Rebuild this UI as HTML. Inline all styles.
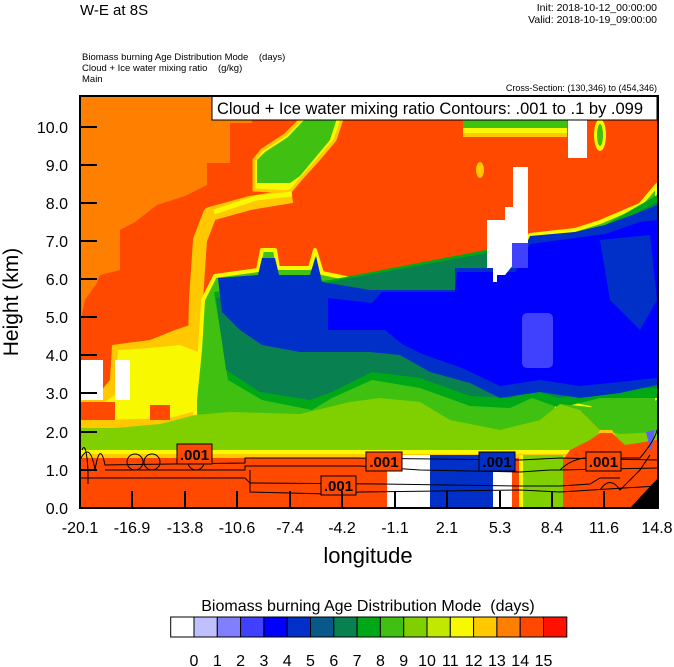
<!DOCTYPE html>
<html><head><meta charset="utf-8"><style>
html,body{margin:0;padding:0;background:#fff;}
svg{display:block;font-family:"Liberation Sans",Arial,sans-serif;}
.pre{white-space:pre;}
</style></head><body>
<svg width="674" height="667" viewBox="0 0 674 667" xmlns="http://www.w3.org/2000/svg">
<text x="80" y="15" font-size="15">W-E at 8S</text>
<text x="657" y="11" font-size="10.5" text-anchor="end">Init: 2018-10-12_00:00:00</text>
<text x="657" y="23" font-size="10.5" text-anchor="end">Valid: 2018-10-19_09:00:00</text>
<text x="82" y="60" font-size="9.5" class="pre">Biomass burning Age Distribution Mode    (days)</text>
<text x="82" y="71" font-size="9.5" class="pre">Cloud + Ice water mixing ratio    (g/kg)</text>
<text x="82" y="82" font-size="9.5">Main</text>
<text x="657" y="91" font-size="9" text-anchor="end">Cross-Section: (130,346) to (454,346)</text>

<clipPath id="c"><rect x="80" y="96" width="578" height="412"/></clipPath>
<g clip-path="url(#c)">
<rect x="80" y="96" width="578" height="412" fill="#ff4800"/>
<!-- orange top-left -->
<polygon fill="#ff8000" points="80,96 252,96 252,123 230,123 230,163 207,163 207,185 185,196 157,205 135,222 120,230 120,270 100,275 97,283 85,300 80,323"/>
<!-- top green patch -->
<polygon fill="#f8f800" stroke="#ffc800" stroke-width="3" points="254,190 254,160 262,150 285,135 300,120 325,100 345,96 345,110 335,140 318,160 300,180 290,192"/>
<polygon fill="#40c010" points="257,183 257,160 265,152 288,137 302,122 328,100 340,100 338,115 330,140 315,158 300,176 290,183"/>
<!-- diagonal stripe -->
<path d="M292,196 L250,203 L210,214 L200,240 L196,300 L195,340 L190,380" fill="none" stroke="#ffc800" stroke-width="14" stroke-linejoin="round"/>
<path d="M292,194 L256,198 L214,212" fill="none" stroke="#f8f800" stroke-width="5"/>
<!-- left yellow zone -->
<polygon fill="#ffc800" points="80,400 95,398 110,380 112,345 150,340 175,330 190,325 205,345 205,415 180,425 80,432"/>
<polygon fill="#f8f800" points="100,405 115,395 118,350 150,348 180,345 198,352 200,410 170,418 100,420"/>
<!-- cool region envelope -->
<path fill="#40c010" stroke="#f8f800" stroke-width="4" stroke-linejoin="round" d="M200,350 L203,300 L215,276 L258,270 L262,250 L275,250 L278,268 L310,268 L315,250 L322,273 L370,283 L453,290 L455,266 L513,266 L530,235 L575,230 L600,222 L640,205 L657,185 L657,420 L640,425 L610,425 L590,408 L560,402 L540,440 L240,440 L195,430 L195,400 Z"/>
<polygon fill="#ff4800" points="80,402 115,402 115,420 80,420"/>
<polygon fill="#ff4800" points="150,405 170,405 170,420 150,420"/>
<!-- green -->
<polygon fill="#00a818" points="214,292 228,380 262,400 312,410 332,398 372,380 420,388 470,406 510,408 532,398 560,408 600,398 657,398 657,195 600,228 330,280"/>
<!-- teal -->
<polygon fill="#088050" points="216,298 226,370 260,392 310,400 332,392 372,372 420,378 470,396 510,398 532,390 560,398 600,388 657,388 657,202 600,232 330,282"/>
<!-- dark blue -->
<polygon fill="#0030c8" points="218,278 258,275 262,258 275,258 279,275 310,275 316,256 322,282 370,290 455,290 455,268 515,268 530,236 575,232 605,225 640,212 657,205 657,385 620,393 580,398 540,392 500,398 470,383 430,372 400,355 370,352 300,352 262,345 240,330 222,312"/>
<!-- blue -->
<polygon fill="#0000ff" points="328,298 372,303 382,292 455,292 457,272 515,272 530,244 575,238 605,234 640,222 657,220 657,378 620,382 580,386 540,380 500,386 462,368 422,354 402,344 385,330 328,330"/>
<polygon fill="#0030c8" points="600,240 650,235 657,300 640,330 610,300"/>
<rect x="522" y="313" width="31" height="55" rx="5" fill="#4040ff"/>
<!-- top right bits -->
<rect x="463" y="120" width="104" height="8" fill="#40c010"/>
<rect x="463" y="128" width="104" height="5" fill="#f8f800"/>
<rect x="463" y="133" width="104" height="4" fill="#ffc800"/>
<ellipse cx="600" cy="135" rx="6" ry="16" fill="#f8f800"/>
<ellipse cx="600" cy="135" rx="3" ry="11" fill="#40c010"/>
<ellipse cx="480" cy="170" rx="4" ry="8" fill="#ffc800"/>
<!-- lime band -->
<polygon fill="#80d000" points="80,450 80,428 115,428 160,424 195,415 230,412 300,414 350,402 380,398 420,402 450,420 500,430 540,420 560,404 580,410 600,430 657,432 657,452"/>
<polygon fill="#40c010" points="560,404 600,408 640,405 657,400 657,432 620,434 600,430 580,410"/>
<polygon fill="#ffc800" points="595,440 600,430 612,430 618,440"/>
<rect x="80" y="450" width="578" height="4" fill="#f8f800"/>
<rect x="80" y="454" width="578" height="4" fill="#ffc800"/>
<rect x="80" y="458" width="578" height="50" fill="#ff4800"/>
<polygon fill="#ff4800" points="563,460 570,450 590,440 600,433 612,433 625,445 657,440 657,470 563,470"/>
<!-- bottom columns -->
<rect x="387" y="455" width="43" height="53" fill="#fff"/>
<rect x="430" y="455" width="63" height="53" fill="#0030c8"/>
<rect x="493" y="455" width="19" height="53" fill="#fff"/>
<rect x="523" y="455" width="40" height="53" fill="#80d000"/>
<rect x="519" y="455" width="4" height="53" fill="#f8f800"/>
<polygon fill="#000" points="630,508 658,478 658,508"/>
<polygon fill="#6060ff" points="646,432 655,430 651,452"/>
<!-- white patches -->
<rect x="80" y="360" width="23" height="40" fill="#fff"/>
<rect x="115" y="360" width="15" height="40" fill="#fff"/>
<polygon fill="#fff" points="513,167 528,167 528,265 513,265 505,275 497,275 497,282 493,282 493,268 487,268 487,220 505,220 505,207 513,207"/>
<rect x="512" y="243" width="16" height="25" fill="#4040ff"/>
<rect x="568" y="120" width="19" height="38" fill="#fff"/>
<!-- contour lines -->
<g fill="none" stroke="#000" stroke-width="1">
<path d="M80,460 Q90,440 95,470 Q100,440 105,465 L245,463 L245,458 L355,458 L520,460 L560,458 L657,460"/>
<path d="M105,470 L245,470 L245,466 L360,466 L420,470 L520,472 L550,470 L560,470 L657,468"/>
<path d="M80,478 L245,478 L250,483 L380,484 L520,486 L560,486 L590,484 L600,478 L620,478"/>
<path d="M250,470 L250,492 L330,494 L360,492 L520,490 L560,492 L657,486"/>
<path d="M560,470 Q575,455 600,458 L640,458 Q655,440 657,430"/>
<path d="M82,450 Q86,440 88,470 L88,484"/>
<circle cx="135" cy="462" r="8"/><circle cx="152" cy="462" r="8"/><circle cx="196" cy="462" r="8"/>
<path d="M600,490 Q610,475 620,490 Q630,480 640,470 L650,455"/>
</g>
</g>
<!-- contour labels -->
<g font-size="15" font-weight="bold">
<rect x="177" y="444" width="35" height="20" fill="#ff4800" stroke="#000"/><text x="194.5" y="460" text-anchor="middle">.001</text>
<rect x="321" y="476" width="35" height="19" fill="#ff4800" stroke="#000"/><text x="338.5" y="491" text-anchor="middle">.001</text>
<rect x="366" y="452" width="36" height="19" fill="#ff4800" stroke="#000"/><text x="384" y="467" text-anchor="middle">.001</text>
<rect x="479" y="452" width="36" height="19" fill="#0030c8" stroke="#000"/><text x="497" y="467" text-anchor="middle">.001</text>
<rect x="586" y="452" width="35" height="19" fill="#ff4800" stroke="#000"/><text x="603.5" y="467" text-anchor="middle">.001</text>
</g>
<!-- legend box -->
<rect x="212" y="96" width="445" height="24" fill="#fff" stroke="#000"/>
<text x="217" y="114" font-size="16.5">Cloud + Ice water mixing ratio Contours: .001 to .1 by .099</text>
<!-- frame -->
<rect x="80" y="96" width="578" height="412" fill="none" stroke="#000" stroke-width="2"/>
<g stroke="#000" stroke-width="2">
<line x1="80" y1="127" x2="97" y2="127"/><line x1="80" y1="165" x2="97" y2="165"/><line x1="80" y1="203" x2="97" y2="203"/><line x1="80" y1="241" x2="97" y2="241"/><line x1="80" y1="279" x2="97" y2="279"/><line x1="80" y1="317" x2="97" y2="317"/><line x1="80" y1="355" x2="97" y2="355"/><line x1="80" y1="393" x2="97" y2="393"/><line x1="80" y1="432" x2="97" y2="432"/><line x1="80" y1="470" x2="97" y2="470"/>
<line x1="132" y1="491" x2="132" y2="508"/><line x1="185" y1="491" x2="185" y2="508"/><line x1="237" y1="491" x2="237" y2="508"/><line x1="290" y1="491" x2="290" y2="508"/><line x1="342" y1="491" x2="342" y2="508"/><line x1="395" y1="491" x2="395" y2="508"/><line x1="447" y1="491" x2="447" y2="508"/><line x1="500" y1="491" x2="500" y2="508"/><line x1="552" y1="491" x2="552" y2="508"/><line x1="604" y1="491" x2="604" y2="508"/>
</g>
<g font-size="16" text-anchor="end">
<text x="68" y="133">10.0</text><text x="68" y="171">9.0</text><text x="68" y="209">8.0</text><text x="68" y="247">7.0</text><text x="68" y="285">6.0</text><text x="68" y="323">5.0</text><text x="68" y="361">4.0</text><text x="68" y="399">3.0</text><text x="68" y="438">2.0</text><text x="68" y="476">1.0</text><text x="68" y="514">0.0</text>
</g>
<g font-size="16" text-anchor="middle">
<text x="80" y="533">-20.1</text><text x="132" y="533">-16.9</text><text x="185" y="533">-13.8</text><text x="237" y="533">-10.6</text><text x="290" y="533">-7.4</text><text x="342" y="533">-4.2</text><text x="395" y="533">-1.1</text><text x="447" y="533">2.1</text><text x="500" y="533">5.3</text><text x="552" y="533">8.4</text><text x="604" y="533">11.6</text><text x="657" y="533">14.8</text>
</g>
<text x="368" y="563" font-size="22" text-anchor="middle">longitude</text>
<text transform="translate(18,302) rotate(-90)" font-size="21" text-anchor="middle">Height (km)</text>
<!-- colorbar -->
<text x="368" y="611" font-size="16" text-anchor="middle" class="pre">Biomass burning Age Distribution Mode  (days)</text>
<g stroke="#000" stroke-width="1">
<rect x="170.7" y="617" width="23.3" height="20" fill="#fff"/>
<rect x="194" y="617" width="23.3" height="20" fill="#c0c0ff"/>
<rect x="217.3" y="617" width="23.3" height="20" fill="#8080ff"/>
<rect x="240.6" y="617" width="23.3" height="20" fill="#4040ff"/>
<rect x="263.9" y="617" width="23.3" height="20" fill="#0000ff"/>
<rect x="287.2" y="617" width="23.3" height="20" fill="#0030c8"/>
<rect x="310.5" y="617" width="23.3" height="20" fill="#08588a"/>
<rect x="333.8" y="617" width="23.3" height="20" fill="#088050"/>
<rect x="357.1" y="617" width="23.3" height="20" fill="#00a818"/>
<rect x="380.4" y="617" width="23.3" height="20" fill="#40c010"/>
<rect x="403.7" y="617" width="23.3" height="20" fill="#80d000"/>
<rect x="427" y="617" width="23.3" height="20" fill="#c0e800"/>
<rect x="450.3" y="617" width="23.3" height="20" fill="#f8f800"/>
<rect x="473.6" y="617" width="23.3" height="20" fill="#ffc800"/>
<rect x="496.9" y="617" width="23.3" height="20" fill="#ff8000"/>
<rect x="520.2" y="617" width="23.3" height="20" fill="#ff4800"/>
<rect x="543.5" y="617" width="23.3" height="20" fill="#ff1000"/>
</g>
<g font-size="16" text-anchor="middle">
<text x="194" y="666">0</text><text x="217.3" y="666">1</text><text x="240.6" y="666">2</text><text x="263.9" y="666">3</text><text x="287.2" y="666">4</text><text x="310.5" y="666">5</text><text x="333.8" y="666">6</text><text x="357.1" y="666">7</text><text x="380.4" y="666">8</text><text x="403.7" y="666">9</text><text x="427" y="666">10</text><text x="450.3" y="666">11</text><text x="473.6" y="666">12</text><text x="496.9" y="666">13</text><text x="520.2" y="666">14</text><text x="543.5" y="666">15</text>
</g>
</svg>
</body></html>
